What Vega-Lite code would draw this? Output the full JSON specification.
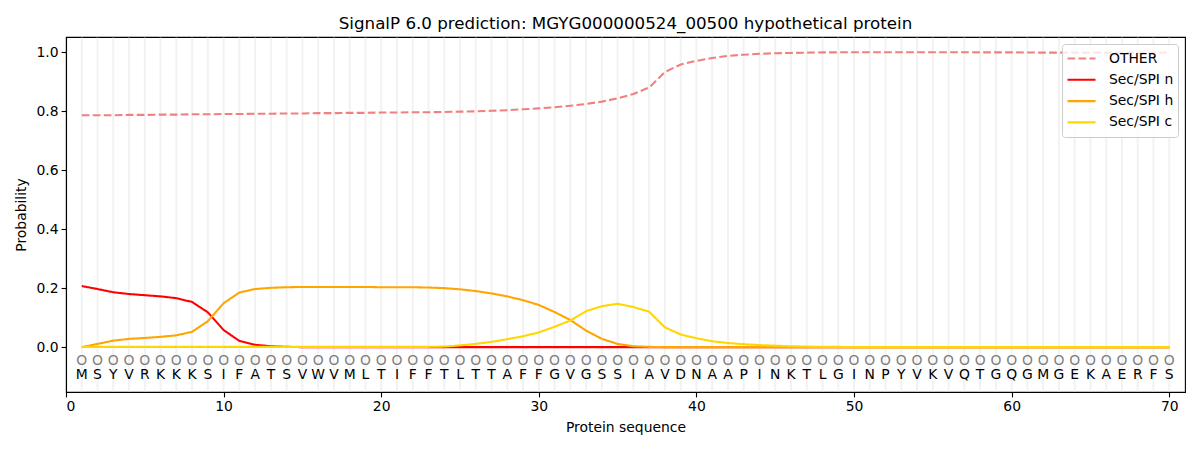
{
  "$schema": "https://vega.github.io/schema/vega-lite/v6.json",
  "title": {"text": "SignalP 6.0 prediction: MGYG000000524_00500 hypothetical protein", "font": "DejaVu Sans", "fontSize": 16.7, "fontWeight": "normal", "color": "black", "offset": 4},
  "autosize": "none",
  "width": 1119,
  "height": 355,
  "padding": {"left": 66, "top": 37, "right": 15, "bottom": 58},
  "background": "white",
  "data": {
    "values": [
      {"pos": 1, "aa": "M", "other": 0.786, "n": 0.207, "h": 0.000, "c": 0.001},
      {"pos": 2, "aa": "S", "other": 0.786, "n": 0.197, "h": 0.011, "c": 0.001},
      {"pos": 3, "aa": "Y", "other": 0.786, "n": 0.186, "h": 0.022, "c": 0.001},
      {"pos": 4, "aa": "V", "other": 0.787, "n": 0.180, "h": 0.028, "c": 0.001},
      {"pos": 5, "aa": "R", "other": 0.787, "n": 0.176, "h": 0.031, "c": 0.001},
      {"pos": 6, "aa": "K", "other": 0.788, "n": 0.172, "h": 0.035, "c": 0.001},
      {"pos": 7, "aa": "K", "other": 0.788, "n": 0.166, "h": 0.040, "c": 0.001},
      {"pos": 8, "aa": "K", "other": 0.789, "n": 0.153, "h": 0.052, "c": 0.001},
      {"pos": 9, "aa": "S", "other": 0.789, "n": 0.118, "h": 0.088, "c": 0.001},
      {"pos": 10, "aa": "I", "other": 0.790, "n": 0.058, "h": 0.149, "c": 0.001},
      {"pos": 11, "aa": "F", "other": 0.790, "n": 0.021, "h": 0.185, "c": 0.001},
      {"pos": 12, "aa": "A", "other": 0.791, "n": 0.008, "h": 0.197, "c": 0.001},
      {"pos": 13, "aa": "T", "other": 0.791, "n": 0.003, "h": 0.201, "c": 0.001},
      {"pos": 14, "aa": "S", "other": 0.792, "n": 0.001, "h": 0.203, "c": 0.001},
      {"pos": 15, "aa": "V", "other": 0.792, "n": 0.000, "h": 0.204, "c": 0.001},
      {"pos": 16, "aa": "W", "other": 0.793, "n": 0.000, "h": 0.204, "c": 0.001},
      {"pos": 17, "aa": "V", "other": 0.793, "n": 0.000, "h": 0.204, "c": 0.001},
      {"pos": 18, "aa": "M", "other": 0.794, "n": 0.000, "h": 0.204, "c": 0.001},
      {"pos": 19, "aa": "L", "other": 0.794, "n": 0.000, "h": 0.204, "c": 0.001},
      {"pos": 20, "aa": "T", "other": 0.795, "n": 0.000, "h": 0.203, "c": 0.001},
      {"pos": 21, "aa": "I", "other": 0.795, "n": 0.000, "h": 0.203, "c": 0.001},
      {"pos": 22, "aa": "F", "other": 0.796, "n": 0.000, "h": 0.203, "c": 0.001},
      {"pos": 23, "aa": "F", "other": 0.796, "n": 0.000, "h": 0.202, "c": 0.001},
      {"pos": 24, "aa": "T", "other": 0.797, "n": 0.000, "h": 0.200, "c": 0.002},
      {"pos": 25, "aa": "L", "other": 0.798, "n": 0.000, "h": 0.196, "c": 0.006},
      {"pos": 26, "aa": "T", "other": 0.799, "n": 0.000, "h": 0.190, "c": 0.011},
      {"pos": 27, "aa": "T", "other": 0.801, "n": 0.000, "h": 0.182, "c": 0.018},
      {"pos": 28, "aa": "A", "other": 0.803, "n": 0.000, "h": 0.172, "c": 0.027},
      {"pos": 29, "aa": "F", "other": 0.806, "n": 0.000, "h": 0.159, "c": 0.037},
      {"pos": 30, "aa": "F", "other": 0.809, "n": 0.000, "h": 0.143, "c": 0.050},
      {"pos": 31, "aa": "G", "other": 0.813, "n": 0.000, "h": 0.119, "c": 0.069},
      {"pos": 32, "aa": "V", "other": 0.818, "n": 0.000, "h": 0.092, "c": 0.090},
      {"pos": 33, "aa": "G", "other": 0.824, "n": 0.000, "h": 0.056, "c": 0.122},
      {"pos": 34, "aa": "S", "other": 0.832, "n": 0.000, "h": 0.028, "c": 0.139},
      {"pos": 35, "aa": "S", "other": 0.843, "n": 0.000, "h": 0.011, "c": 0.147},
      {"pos": 36, "aa": "I", "other": 0.858, "n": 0.000, "h": 0.003, "c": 0.136},
      {"pos": 37, "aa": "A", "other": 0.880, "n": 0.000, "h": 0.001, "c": 0.120},
      {"pos": 38, "aa": "V", "other": 0.932, "n": 0.000, "h": 0.000, "c": 0.067},
      {"pos": 39, "aa": "D", "other": 0.958, "n": 0.000, "h": 0.000, "c": 0.043},
      {"pos": 40, "aa": "N", "other": 0.970, "n": 0.000, "h": 0.000, "c": 0.030},
      {"pos": 41, "aa": "A", "other": 0.980, "n": 0.000, "h": 0.000, "c": 0.020},
      {"pos": 42, "aa": "A", "other": 0.987, "n": 0.000, "h": 0.000, "c": 0.014},
      {"pos": 43, "aa": "P", "other": 0.991, "n": 0.000, "h": 0.000, "c": 0.010},
      {"pos": 44, "aa": "I", "other": 0.994, "n": 0.000, "h": 0.000, "c": 0.007},
      {"pos": 45, "aa": "N", "other": 0.996, "n": 0.000, "h": 0.000, "c": 0.005},
      {"pos": 46, "aa": "K", "other": 0.997, "n": 0.000, "h": 0.000, "c": 0.003},
      {"pos": 47, "aa": "T", "other": 0.998, "n": 0.000, "h": 0.000, "c": 0.002},
      {"pos": 48, "aa": "L", "other": 0.999, "n": 0.000, "h": 0.000, "c": 0.001},
      {"pos": 49, "aa": "G", "other": 0.999, "n": 0.000, "h": 0.000, "c": 0.001},
      {"pos": 50, "aa": "I", "other": 0.9995, "n": 0.000, "h": 0.000, "c": 0.000},
      {"pos": 51, "aa": "N", "other": 0.9995, "n": 0.000, "h": 0.000, "c": 0.000},
      {"pos": 52, "aa": "P", "other": 0.9995, "n": 0.000, "h": 0.000, "c": 0.000},
      {"pos": 53, "aa": "Y", "other": 0.9995, "n": 0.000, "h": 0.000, "c": 0.000},
      {"pos": 54, "aa": "V", "other": 0.9995, "n": 0.000, "h": 0.000, "c": 0.000},
      {"pos": 55, "aa": "K", "other": 0.9995, "n": 0.000, "h": 0.000, "c": 0.000},
      {"pos": 56, "aa": "V", "other": 0.9995, "n": 0.000, "h": 0.000, "c": 0.000},
      {"pos": 57, "aa": "Q", "other": 0.9993, "n": 0.000, "h": 0.000, "c": 0.000},
      {"pos": 58, "aa": "T", "other": 0.999, "n": 0.000, "h": 0.000, "c": 0.000},
      {"pos": 59, "aa": "G", "other": 0.999, "n": 0.000, "h": 0.000, "c": 0.000},
      {"pos": 60, "aa": "Q", "other": 0.999, "n": 0.000, "h": 0.000, "c": 0.000},
      {"pos": 61, "aa": "G", "other": 0.9985, "n": 0.000, "h": 0.000, "c": 0.000},
      {"pos": 62, "aa": "M", "other": 0.998, "n": 0.000, "h": 0.000, "c": 0.000},
      {"pos": 63, "aa": "G", "other": 0.998, "n": 0.000, "h": 0.000, "c": 0.000},
      {"pos": 64, "aa": "E", "other": 0.998, "n": 0.000, "h": 0.000, "c": 0.000},
      {"pos": 65, "aa": "K", "other": 0.998, "n": 0.000, "h": 0.000, "c": 0.000},
      {"pos": 66, "aa": "A", "other": 0.998, "n": 0.000, "h": 0.000, "c": 0.000},
      {"pos": 67, "aa": "E", "other": 0.998, "n": 0.000, "h": 0.000, "c": 0.000},
      {"pos": 68, "aa": "R", "other": 0.998, "n": 0.000, "h": 0.000, "c": 0.000},
      {"pos": 69, "aa": "F", "other": 0.998, "n": 0.000, "h": 0.000, "c": 0.000},
      {"pos": 70, "aa": "S", "other": 0.998, "n": 0.000, "h": 0.000, "c": 0.000}
    ]
  },
  "encoding": {
    "x": {
      "field": "pos",
      "type": "quantitative",
      "title": "Protein sequence",
      "scale": {"domain": [0, 71], "nice": false, "zero": false},
      "axis": {"values": [0, 10, 20, 30, 40, 50, 60, 70], "grid": false, "format": "d"}
    }
  },
  "layer": [
    {
      "mark": {"type": "rule", "stroke": "#f2f2f2", "strokeWidth": 2},
      "encoding": {
        "y": {"datum": -0.1495, "type": "quantitative"},
        "y2": {"datum": 1.0485}
      }
    },
    {
      "transform": [{"fold": ["other", "n", "h", "c"], "as": ["type", "prob"]}],
      "mark": {"type": "line", "strokeWidth": 2.08},
      "encoding": {
        "y": {
          "field": "prob",
          "type": "quantitative",
          "title": "Probability",
          "scale": {"domain": [-0.152, 1.051], "nice": false, "zero": false},
          "axis": {"values": [0, 0.2, 0.4, 0.6, 0.8, 1.0], "format": ".1f", "grid": false}
        },
        "color": {
          "field": "type",
          "type": "nominal",
          "scale": {"domain": ["other", "n", "h", "c"], "range": ["#f08080", "#ff0000", "#ffa500", "#ffd700"]},
          "legend": {"title": null, "labelExpr": "{'other': 'OTHER', 'n': 'Sec/SPI n', 'h': 'Sec/SPI h', 'c': 'Sec/SPI c'}[datum.label]"}
        },
        "strokeDash": {
          "field": "type",
          "type": "nominal",
          "scale": {"domain": ["other", "n", "h", "c"], "range": [[7.7, 3.3], [1, 0], [1, 0], [1, 0]]},
          "legend": {"title": null, "labelExpr": "{'other': 'OTHER', 'n': 'Sec/SPI n', 'h': 'Sec/SPI h', 'c': 'Sec/SPI c'}[datum.label]"}
        }
      }
    },
    {
      "mark": {"type": "text", "text": "O", "font": "DejaVu Sans", "fontSize": 13.9, "fill": "#808080", "baseline": "middle", "align": "center"},
      "encoding": {"y": {"datum": -0.047, "type": "quantitative"}}
    },
    {
      "mark": {"type": "text", "font": "DejaVu Sans", "fontSize": 13.9, "fill": "black", "baseline": "middle", "align": "center"},
      "encoding": {
        "y": {"datum": -0.095, "type": "quantitative"},
        "text": {"field": "aa"}
      }
    }
  ],
  "config": {
    "view": {"stroke": "black", "strokeWidth": 1.1},
    "font": "DejaVu Sans",
    "axis": {
      "labelFont": "DejaVu Sans",
      "labelFontSize": 13.9,
      "labelColor": "black",
      "titleFont": "DejaVu Sans",
      "titleFontSize": 13.9,
      "titleFontWeight": "normal",
      "titleColor": "black",
      "domainColor": "black",
      "domainWidth": 1.1,
      "tickColor": "black",
      "tickWidth": 1.1,
      "tickSize": 4.9,
      "labelPadding": 3
    },
    "axisX": {"titlePadding": 7},
    "axisY": {"titlePadding": 8},
    "legend": {
      "orient": "top-right",
      "offset": 7,
      "strokeColor": "#cccccc",
      "fillColor": "rgba(255,255,255,0.8)",
      "cornerRadius": 3,
      "padding": 4,
      "symbolType": "stroke",
      "symbolSize": 784,
      "symbolStrokeWidth": 2.08,
      "clipHeight": 21,
      "labelFont": "DejaVu Sans",
      "labelFontSize": 13.9,
      "labelColor": "black",
      "rowPadding": 0.3,
      "labelOffset": 12
    }
  }
}
